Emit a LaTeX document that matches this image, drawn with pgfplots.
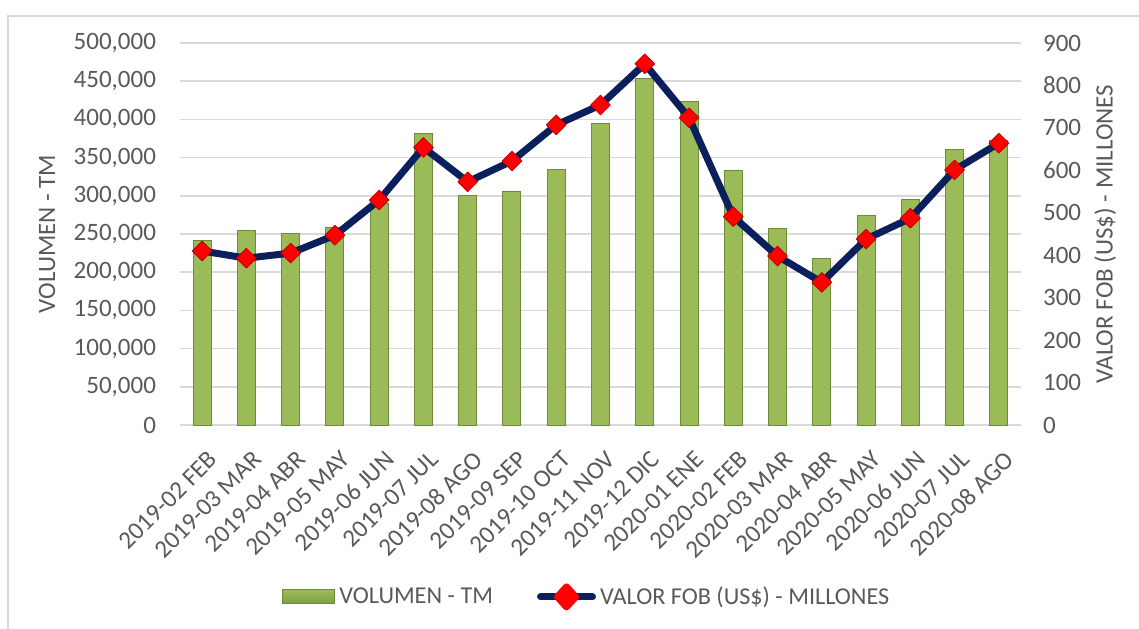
\documentclass[border=0pt]{standalone}
\usepackage{pgfplots}
\pgfplotsset{compat=1.18}
\usepackage{fontspec}
\setmainfont{Carlito}
\definecolor{txt}{HTML}{595959}
\definecolor{grd}{HTML}{D9D9D9}
\definecolor{barm}{HTML}{9BBB59}
\definecolor{barr}{HTML}{7F9E45}
\definecolor{bard}{HTML}{6F8A3A}
\definecolor{navy}{HTML}{0A1F5C}
\definecolor{mred}{HTML}{FF0000}
\definecolor{mredd}{HTML}{C00000}

\pgfplotstableread{
x vol val
0 241000 410
1 254000 393
2 251000 405
3 258000 447
4 290000 530
5 382000 654
6 300000 573
7 306000 622
8 335000 707
9 394000 754
10 454000 851
11 424000 724
12 333000 491
13 257000 398
14 218000 336
15 274000 438
16 295000 487
17 360000 601
18 373000 664
}\datatable

\begin{document}
\begin{tikzpicture}[x=1pt,y=1pt]
\useasboundingbox (0,0) rectangle (569.5,314);
\draw[grd, line width=1pt] (4,-5) -- (4,306) -- (580,306);
\begin{axis}[
  at={(90pt,101.5pt)}, anchor=south west, scale only axis,
  width=420.5pt, height=191pt,
  xmin=-0.5, xmax=18.5, ymin=0, ymax=500000,
  ytick={0,50000,100000,150000,200000,250000,300000,350000,400000,450000,500000},
  xtick={0,...,18},
  xticklabels={2019-02 FEB,2019-03 MAR,2019-04 ABR,2019-05 MAY,2019-06 JUN,2019-07 JUL,2019-08 AGO,2019-09 SEP,2019-10 OCT,2019-11 NOV,2019-12 DIC,2020-01 ENE,2020-02 FEB,2020-03 MAR,2020-04 ABR,2020-05 MAY,2020-06 JUN,2020-07 JUL,2020-08 AGO},
  axis line style={draw=none}, major tick length=0pt,
  ymajorgrids, grid style={grd, line width=0.75pt},
  scaled y ticks=false,
  /pgf/number format/.cd, fixed, 1000 sep={,}, assume math mode=true, /pgfplots/.cd,
  tick label style={font=\fontsize{12.5}{14}\selectfont, text=txt},
  yticklabel style={xshift=-8.5pt},
  xticklabel style={rotate=45, anchor=east, xshift=-3.5pt, yshift=-14.5pt},
  ylabel={VOLUMEN - TM},
  ylabel style={at={(axis description cs:-0.158,0.5)}, anchor=center, font=\fontsize{12.5}{14}\selectfont, text=txt},
]
\addplot[ybar, bar width=9pt, bar shift=0pt, draw=bard, line width=0.5pt,
  fill=barm] table[x=x, y=vol] {\datatable};
\end{axis}
\begin{axis}[
  at={(90pt,101.5pt)}, anchor=south west, scale only axis,
  width=420.5pt, height=191pt,
  xmin=-0.5, xmax=18.5, ymin=0, ymax=900,
  ytick={0,100,200,300,400,500,600,700,800,900},
  axis y line*=right, axis x line=none,
  axis line style={draw=none}, major tick length=0pt,
  /pgf/number format/assume math mode=true,
  tick label style={font=\fontsize{12.5}{14}\selectfont, text=txt},
  yticklabel style={xshift=7.5pt},
  ylabel={VALOR FOB (US\$) - MILLONES},
  ylabel style={at={(axis description cs:1.100,0.5)}, anchor=center, font=\fontsize{12.5}{14}\selectfont, text=txt},
  legend style={at={(0.485,-0.45)}, anchor=center, draw=none, fill=none,
    font=\fontsize{12.1}{14}\selectfont, text=txt, legend columns=2,
    /tikz/every even column/.append style={column sep=20pt}},
]
\addlegendimage{legend image code/.code={
  \draw[draw=bard, line width=0.5pt, top color=barm, bottom color=barr] (0pt,-3.5pt) rectangle (26pt,3.5pt);}}
\addlegendentry{VOLUMEN - TM}
\addplot[navy, line width=3.5pt, line join=round,
  mark=square*, mark size=3.5pt,
  mark options={rotate=45, fill=mred, draw=mredd, line width=0.4pt, solid},
  legend image code/.code={
    \draw[navy, line width=3.5pt, line cap=round] (1.5pt,0pt) -- (27.5pt,0pt);
    \fill[mred] (14.5pt,5pt) -- (19pt,0pt) -- (14.5pt,-5pt) -- (10pt,0pt) -- cycle;}
  ] table[x=x, y=val] {\datatable};
\addlegendentry{VALOR FOB (US\$) - MILLONES}
\end{axis}
\end{tikzpicture}
\end{document}
